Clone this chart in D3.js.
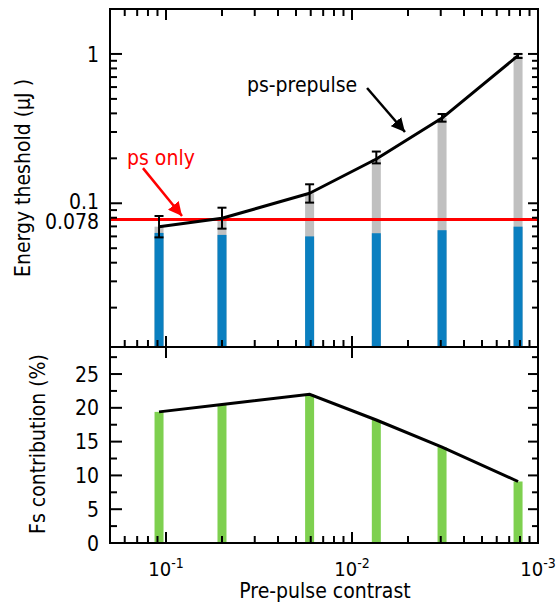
<!DOCTYPE html>
<html><head><meta charset="utf-8">
<script src="https://cdn.jsdelivr.net/npm/d3@7"></script>
<style>
html,body{margin:0;padding:0;background:#fff;}
svg text{font-family:"DejaVu Sans Condensed","DejaVu Sans",sans-serif;font-stretch:condensed;fill:#000;}
</style></head>
<body>
<svg id="c" width="559" height="603"></svg>
<script>
// ---- data ----
const contrast = [0.109, 0.05, 0.0169, 0.0074, 0.00328, 0.00128];
const psPrepulse = [0.0697, 0.0793, 0.1167, 0.198, 0.372, 0.974];
const errLow = [0.0591, 0.0676, 0.101, 0.185, 0.352, 0.94];
const errHigh = [0.0822, 0.0934, 0.134, 0.222, 0.396, 1.0];
const fsPart = [0.0633, 0.0614, 0.0600, 0.0630, 0.0660, 0.0697];
const psOnly = 0.078;
const fsContribution = [19.4, 20.5, 22.0, 18.2, 14.2, 9.1];
const xMajorTicks = [0.1, 0.01, 0.001];
const xMajorLabels = ["-1", "-2", "-3"];
const yTopLabels = [1, 0.1, 0.078];
const yBottomTicks = [0, 5, 10, 15, 20, 25];

const svg = d3.select("#c");
const L = 110, R = 538, T1 = 9, B1 = 347, T2 = 347, B2 = 543;

const x = d3.scaleLog().domain([0.2, 0.001]).range([L, R]);
const y1 = d3.scaleLog().domain([0.0109, 2]).range([B1, T1]);
const y2 = d3.scaleLinear().domain([0, 29]).range([B2, T2]);

// minor tick values
const xMinor = [];
[6,7,8,9].forEach(k => xMinor.push(1/k));
[2,3,4,5,6,7,8,9].forEach(k => { xMinor.push(1/(10*k)); xMinor.push(1/(100*k)); });
const y1Minor = [];
[2,3,4,5,6,7,8,9].forEach(k => { y1Minor.push(k*0.01); y1Minor.push(k*0.1); });
y1Minor.push(2);
const y2Minor = [2.5, 7.5, 12.5, 17.5, 22.5, 27.5];

svg.append("defs").html(
  '<clipPath id="cp1"><rect x="'+L+'" y="'+T1+'" width="'+(R-L)+'" height="'+(B1-T1)+'"/></clipPath>'+
  '<clipPath id="cp2"><rect x="'+L+'" y="'+T2+'" width="'+(R-L)+'" height="'+(B2-T2)+'"/></clipPath>'+
  '<marker id="ab" viewBox="0 0 10 10" refX="10" refY="5" markerWidth="5.5" markerHeight="5.5" orient="auto"><path d="M0,0 L10,5 L0,10 z" fill="#000"/></marker>'+
  '<marker id="ar" viewBox="0 0 10 10" refX="10" refY="5" markerWidth="5.5" markerHeight="5.5" orient="auto"><path d="M0,0 L10,5 L0,10 z" fill="#f00"/></marker>'
);

const bw = 9;
// ---- top panel ----
const g1 = svg.append("g").attr("clip-path", "url(#cp1)");
g1.selectAll(".gray").data(contrast).join("rect")
  .attr("x", d => x(d) - bw/2).attr("width", bw)
  .attr("y", (d,i) => y1(psPrepulse[i])).attr("height", (d,i) => B1 - y1(psPrepulse[i]) + 2)
  .attr("fill", "#c0c0c0");
g1.selectAll(".blue").data(contrast).join("rect")
  .attr("x", d => x(d) - bw/2).attr("width", bw)
  .attr("y", (d,i) => y1(fsPart[i])).attr("height", (d,i) => B1 - y1(fsPart[i]) + 2)
  .attr("fill", "#0a7fc0");
g1.append("line").attr("x1", L).attr("x2", R).attr("y1", y1(psOnly)).attr("y2", y1(psOnly))
  .attr("stroke", "#ff0000").attr("stroke-width", 3);
g1.append("path")
  .attr("d", d3.line().x((d,i) => x(contrast[i])).y(d => y1(d))(psPrepulse))
  .attr("fill", "none").attr("stroke", "#000").attr("stroke-width", 3).attr("stroke-linejoin", "round");
const eb = g1.selectAll(".eb").data(contrast).join("g").attr("stroke", "#000").attr("stroke-width", 2);
eb.append("line").attr("x1", d => x(d)).attr("x2", d => x(d))
  .attr("y1", (d,i) => y1(errLow[i])).attr("y2", (d,i) => y1(errHigh[i]));
eb.append("line").attr("x1", d => x(d) - 4.5).attr("x2", d => x(d) + 4.5)
  .attr("y1", (d,i) => y1(errLow[i])).attr("y2", (d,i) => y1(errLow[i]));
eb.append("line").attr("x1", d => x(d) - 4.5).attr("x2", d => x(d) + 4.5)
  .attr("y1", (d,i) => y1(errHigh[i])).attr("y2", (d,i) => y1(errHigh[i]));

// annotations
svg.append("text").attr("x", x(0.0367)).attr("y", y1(0.556)).attr("font-size", 21).text("ps-prepulse");
svg.append("line").attr("x1", x(0.0083)).attr("y1", y1(0.591)).attr("x2", x(0.00519)).attr("y2", y1(0.300))
  .attr("stroke", "#000").attr("stroke-width", 2.5).attr("marker-end", "url(#ab)");
svg.append("text").attr("x", x(0.162)).attr("y", y1(0.180)).attr("font-size", 21).style("fill", "#ff0000").text("ps only");
svg.append("line").attr("x1", x(0.133)).attr("y1", y1(0.172)).attr("x2", x(0.082)).attr("y2", y1(0.0822))
  .attr("stroke", "#ff0000").attr("stroke-width", 2.5).attr("marker-end", "url(#ar)");

// ---- bottom panel ----
const g2 = svg.append("g").attr("clip-path", "url(#cp2)");
g2.selectAll(".green").data(contrast).join("rect")
  .attr("x", d => x(d) - bw/2).attr("width", bw)
  .attr("y", (d,i) => y2(fsContribution[i])).attr("height", (d,i) => B2 - y2(fsContribution[i]))
  .attr("fill", "#7ed04f");
g2.append("path")
  .attr("d", d3.line().x((d,i) => x(contrast[i])).y(d => y2(d))(fsContribution))
  .attr("fill", "none").attr("stroke", "#000").attr("stroke-width", 3);

// ---- frames and ticks ----
const tk = svg.append("g").attr("stroke", "#000").attr("stroke-width", 2);
function vt(xv, y0, len) { tk.append("line").attr("x1", xv).attr("x2", xv).attr("y1", y0).attr("y2", y0 + len); }
function ht(yv, x0, len) { tk.append("line").attr("y1", yv).attr("y2", yv).attr("x1", x0).attr("x2", x0 + len); }
xMinor.forEach(v => { const p = x(v); vt(p, T1, 7); vt(p, B1, -7); vt(p, B2, -7); });
xMajorTicks.forEach(v => { const p = x(v); vt(p, T1, 11); vt(p, B1, -11); vt(p, B1, 11); vt(p, B2, -11); });
y1Minor.forEach(v => { const p = y1(v); ht(p, L, 7); ht(p, R, -6); });
[1, 0.1].forEach(v => { const p = y1(v); ht(p, L, 12); ht(p, R, -10); });
y2Minor.forEach(v => { const p = y2(v); ht(p, L, 7); ht(p, R, -6); });
yBottomTicks.forEach(v => { const p = y2(v); ht(p, L, 12); ht(p, R, -10); });
svg.append("rect").attr("x", L).attr("y", T1).attr("width", R - L).attr("height", B1 - T1)
  .attr("fill", "none").attr("stroke", "#000").attr("stroke-width", 2);
svg.append("rect").attr("x", L).attr("y", T2).attr("width", R - L).attr("height", B2 - T2)
  .attr("fill", "none").attr("stroke", "#000").attr("stroke-width", 2);

// ---- tick labels ----
const labelShift = {1: 0, 0.1: -2, 0.078: 2};
yTopLabels.forEach(v => {
  svg.append("text").attr("x", 99).attr("y", y1(v) + labelShift[v]).attr("dy", "0.36em")
    .attr("text-anchor", "end").attr("font-size", 21).text(v);
});
yBottomTicks.forEach(v => {
  svg.append("text").attr("x", 99).attr("y", y2(v)).attr("dy", "0.36em")
    .attr("text-anchor", "end").attr("font-size", 21).text(v);
});
xMajorTicks.forEach((v, i) => {
  const t = svg.append("text").attr("x", x(v)).attr("y", 576).attr("text-anchor", "middle").attr("font-size", 20);
  t.append("tspan").text("10");
  t.append("tspan").attr("dy", -8).attr("font-size", 14).text(xMajorLabels[i]);
});

// ---- axis titles ----
svg.append("text").attr("transform", "translate(30,178) rotate(-90)").attr("text-anchor", "middle")
  .attr("font-size", 21).text("Energy theshold (μJ )");
svg.append("text").attr("transform", "translate(45,444) rotate(-90)").attr("text-anchor", "middle")
  .attr("font-size", 21).text("Fs contribution (%)");
svg.append("text").attr("x", 325).attr("y", 598).attr("text-anchor", "middle")
  .attr("font-size", 21).text("Pre-pulse contrast");
</script>
</body></html>
